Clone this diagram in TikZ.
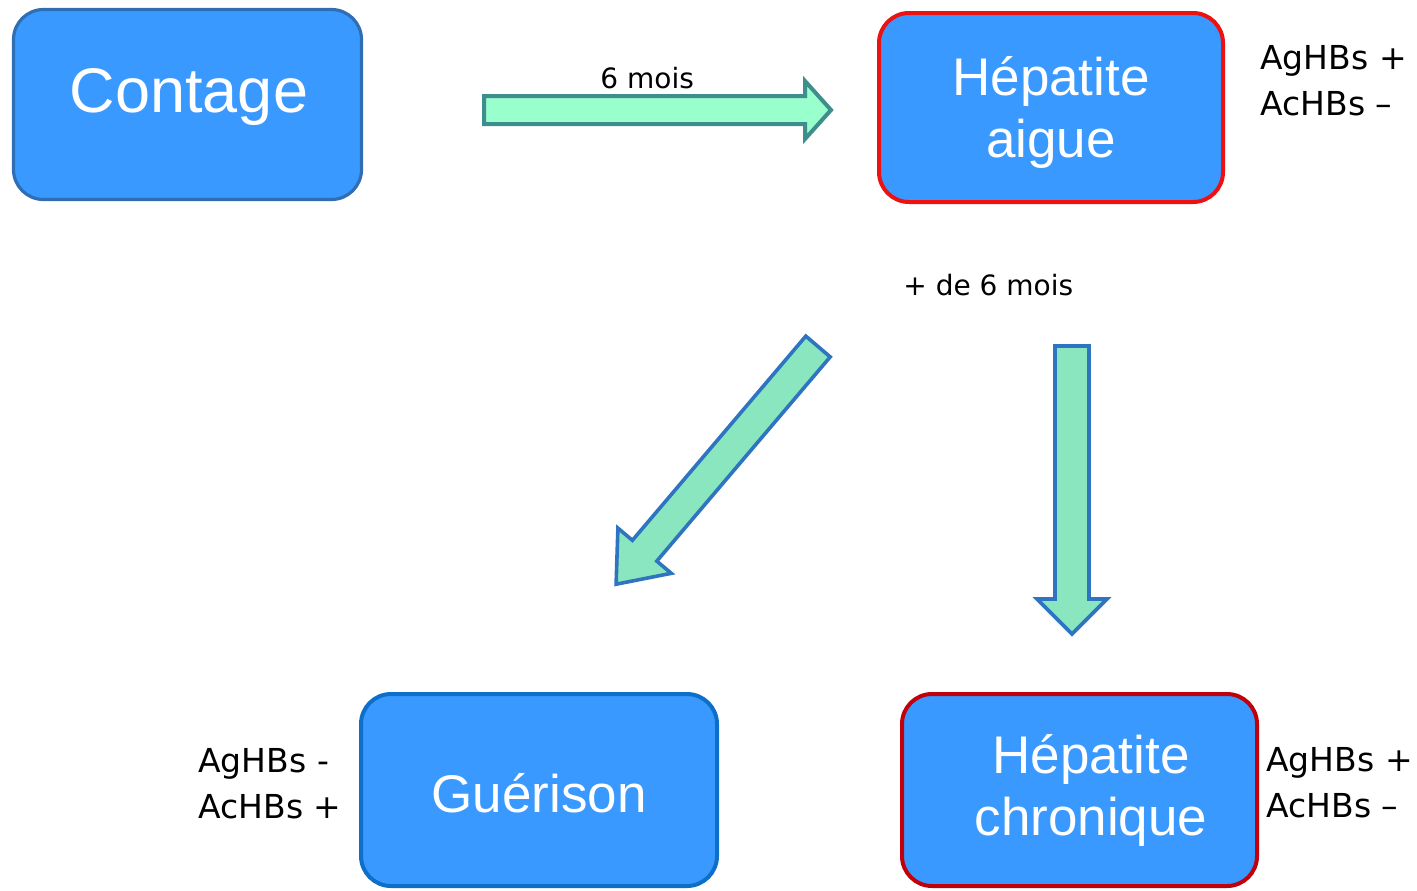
\documentclass[tikz,border=0pt]{standalone}
\usepackage{fontspec}
\setmainfont{Liberation Sans}
\newfontfamily\labfont{DejaVu Sans}
\definecolor{boxfill}{HTML}{3A99FF}
\definecolor{bordblue}{HTML}{2F6EB5}
\definecolor{bordblue2}{HTML}{0E6FC8}
\definecolor{bordred}{HTML}{EE1111}
\definecolor{bordred2}{HTML}{C0000A}
\definecolor{arrfillA}{HTML}{99FFCC}
\definecolor{arrlineA}{HTML}{3E8E8E}
\definecolor{arrfillB}{HTML}{8AE6BE}
\definecolor{arrlineB}{HTML}{2E74C0}
\tikzset{
  box/.style={draw, fill=boxfill, rounded corners=15pt, line width=2pt, inner sep=0pt},
  boxtext/.style={text=white, inner sep=0pt, anchor=base},
  lab/.style={font=\labfont\fontsize{16.5}{23}\selectfont, align=left, anchor=base west, inner sep=0pt},
  timelab/.style={font=\labfont\fontsize{14}{17}\selectfont, anchor=base west, inner sep=0pt},
  arrA/.style={draw=arrlineA, fill=arrfillA, line width=2pt, line join=miter},
  arrB/.style={draw=arrlineB, fill=arrfillB, line width=1.8pt, line join=miter},
}
\begin{document}
\begin{tikzpicture}[x=0.5pt,y=-0.5pt]
\useasboundingbox (0,0) rectangle (1417,890);
% boxes
\node[box, draw=bordblue, line width=1.6pt, minimum width=174pt, minimum height=95pt] (contage) at (187.5,104.5) {};
\node[box, draw=bordred, minimum width=172pt, minimum height=94.5pt] (aigue) at (1051,107.5) {};
\node[box, draw=bordblue2, minimum width=178pt, minimum height=96pt] (guerison) at (539,790) {};
\node[box, draw=bordred2, minimum width=177.5pt, minimum height=96pt] (chronique) at (1079.5,790) {};
% box texts
\node[boxtext, font=\fontsize{31.5}{36}\selectfont] (contageT) at (189,112) {Contage};
\node[boxtext, font=\fontsize{26.5}{30}\selectfont] (aigueT1) at (1051,95) {Hépatite};
\node[boxtext, font=\fontsize{26.5}{30}\selectfont] (aigueT2) at (1051,157) {aigue};
\node[boxtext, font=\fontsize{26.5}{30}\selectfont] (guerisonT) at (539,812) {Guérison};
\node[boxtext, font=\fontsize{26.5}{30}\selectfont] (chroniqueT1) at (1091,773) {Hépatite};
\node[boxtext, font=\fontsize{26.5}{30}\selectfont] (chroniqueT2) at (1091,835) {chronique};
% serology labels (base anchor = last line)
\node[lab] (serA) at (1260,115) {AgHBs +\\AcHBs –};
\node[lab] (serG) at (198,818) {AgHBs -\\AcHBs +};
\node[lab] (serC) at (1266,817) {AgHBs +\\AcHBs –};
% time labels
\node[timelab] (t1) at (600,88) {6 mois};
\node[timelab] (t2) at (903,295) {+ de 6 mois};
% block arrows
\draw[arrA] (484,96) -- (805,96) -- (805,81) -- (831,110) -- (805,139) -- (805,124) -- (484,124) -- cycle;
\draw[arrB] (805.8,336.1) -- (632.4,540.3) -- (617.9,528.1) -- (616.1,584.2) -- (671.3,573.3) -- (656.8,561.1) -- (830.2,356.9) -- cycle;
\draw[arrB] (1055,346) -- (1089,346) -- (1089,599) -- (1107,599) -- (1072,634) -- (1037,599) -- (1055,599) -- cycle;
\end{tikzpicture}
\end{document}
